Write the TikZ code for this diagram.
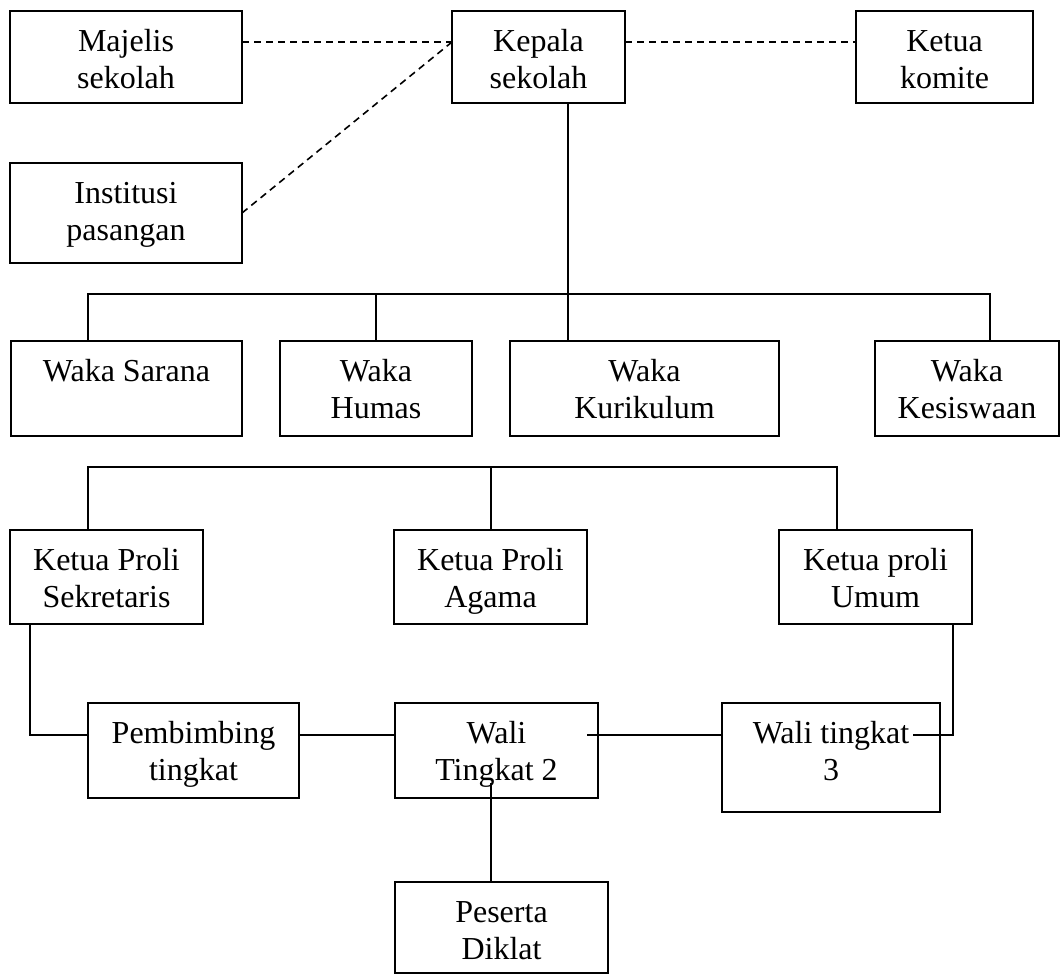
\documentclass[tikz,border=0pt]{standalone}
\usepackage{fontspec}
\setmainfont{Liberation Serif}
\newlength\pxu \setlength\pxu{0.5pt}
\newcommand{\bx}[3]{\parbox[c][#2\pxu][t]{#1\pxu}{\centering\fontsize{16pt}{18.5pt}\selectfont\rule{0pt}{20pt}#3\par}}
\tikzset{
  box/.style={draw, line width=1pt, inner sep=0pt, outer sep=0pt, anchor=north west},
  link/.style={line width=0.9pt},
  dlink/.style={line width=0.8pt, dash pattern=on 3.5pt off 2.5pt},
}
\begin{document}
\begin{tikzpicture}[x=0.5pt,y=-0.5pt]
\useasboundingbox (0,0) rectangle (1061,975);
% top row
\node[box] (maj) at (10,11) {\bx{232}{92}{Majelis\\sekolah}};
\node[box] (kep) at (452,11) {\bx{173}{92}{Kepala\\sekolah}};
\node[box] (kom) at (856,11) {\bx{177}{92}{Ketua\\komite}};
\node[box] (inst) at (10,163) {\bx{232}{100}{Institusi\\pasangan}};
% waka row
\node[box] (sar) at (11,341) {\bx{231}{95}{Waka Sarana\\~}};
\node[box] (hum) at (280,341) {\bx{192}{95}{Waka\\Humas}};
\node[box] (kur) at (510,341) {\bx{269}{95}{Waka\\Kurikulum}};
\node[box] (kes) at (875,341) {\bx{184}{95}{Waka\\Kesiswaan}};
% proli row
\node[box] (sek) at (10,530) {\bx{193}{94}{Ketua Proli\\Sekretaris}};
\node[box] (aga) at (394,530) {\bx{193}{94}{Ketua Proli\\Agama}};
\node[box] (umu) at (779,530) {\bx{193}{94}{Ketua proli\\Umum}};
% wali row
\node[box] (pem) at (88,703) {\bx{211}{95}{Pembimbing\\tingkat}};
\node[box] (wal2) at (395,703) {\bx{203}{95}{Wali\\Tingkat 2}};
\node[box] (wal3) at (722,703) {\bx{218}{109}{Wali tingkat\\3}};
\node[box] (pes) at (395,882) {\bx{213}{91}{Peserta\\Diklat}};

% dashed links
\coordinate (dy) at (0,42);
\draw[dlink] (maj.east |- dy) -- (kep.west |- dy);
\draw[dlink] (kep.east |- dy) -- (kom.west |- dy);
\draw[dlink] (inst.east) -- (kep.west |- dy);

% kepala to waka
\coordinate (kv) at (568,0);
\draw[link] (kep.south -| kv) -- (kur.north -| kv);
\coordinate (b1l) at (88,294);
\coordinate (b1r) at (990,294);
\coordinate (b1h) at (376,294);
\draw[link] (sar.north -| b1l) -- (b1l) -- (b1r) -- (kes.north -| b1r);
\draw[link] (b1h) -- (hum.north -| b1h);

% proli bus
\coordinate (b2l) at (88,467);
\coordinate (b2m) at (491,467);
\coordinate (b2r) at (837,467);
\draw[link] (sek.north -| b2l) -- (b2l) -- (b2r) -- (umu.north -| b2r);
\draw[link] (b2m) -- (aga.north -| b2m);

% wali row links
\coordinate (ry) at (30,735);
\draw[link] (sek.south -| ry) -- (ry) -- (pem.west |- ry);
\draw[link] (pem.east |- ry) -- (wal2.west |- ry);
\coordinate (w2s) at (587,735);
\draw[link] (w2s) -- (wal3.west |- w2s);
\coordinate (w3s) at (913,735);
\coordinate (w3c) at (953,735);
\draw[link] (w3s) -- (w3c) -- (umu.south -| w3c);
\coordinate (w2d) at (491,783);
\draw[link] (w2d) -- (pes.north -| w2d);
\end{tikzpicture}
\end{document}
